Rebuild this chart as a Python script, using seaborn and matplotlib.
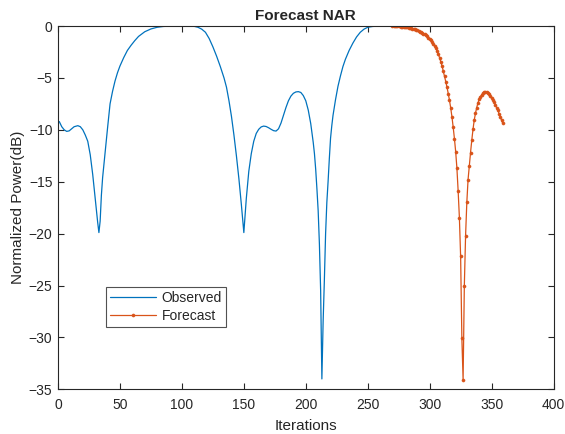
import numpy as np
import pandas as pd
import matplotlib
matplotlib.use("Agg")
import matplotlib.pyplot as plt
import seaborn as sns

# Observed normalized power (dB) over iterations
obs_x = [1, 3, 5, 7, 9, 11, 13, 16, 18, 20, 22, 24, 26, 28, 30, 32, 33, 34, 35, 36,
         38, 40, 42, 44, 46, 48, 50, 53, 56, 59, 62, 65, 70, 75, 80, 85, 90, 95, 100,
         105, 110, 113, 116, 119, 122, 125, 128, 131, 134, 136, 138, 140, 142, 144,
         146, 148, 150, 152, 154, 156, 158, 160, 162, 164, 166, 168, 170, 172, 174,
         176, 178, 180, 182, 184, 186, 188, 190, 192, 194, 196, 198, 200, 202, 204,
         206, 207, 208, 209, 210, 211, 212, 213, 214, 215, 216, 217, 218, 219, 220,
         221, 222, 224, 226, 228, 230, 232, 235, 238, 241, 244, 247, 250, 254, 258,
         262, 266, 270]
obs_y = [-9.2, -9.7, -10.0, -10.15, -10.1, -9.9, -9.7, -9.6, -9.7, -10.0, -10.5,
         -11.1, -12.4, -14.3, -16.6, -18.9, -19.9, -18.8, -16.3, -14.6,
         -12.2, -9.8, -7.5, -6.3, -5.3, -4.5, -3.85, -3.05, -2.35, -1.85, -1.4,
         -1.0, -0.55, -0.28, -0.12, -0.04, -0.01, 0.0, 0.0,
         0.0, -0.03, -0.12, -0.3, -0.6, -1.2, -2.0, -2.9, -3.9, -5.0, -5.9,
         -7.2, -8.7, -10.5, -12.5, -14.7, -17.2, -19.9, -16.6, -14.0, -12.3,
         -11.1, -10.35, -9.95, -9.72, -9.64, -9.68, -9.8, -9.95, -10.08,
         -10.12, -9.9, -9.35, -8.6, -7.85, -7.2, -6.75, -6.48, -6.35, -6.32,
         -6.4, -6.7, -7.2, -8.1, -9.4, -11.2, -12.3, -13.8, -15.7, -17.8,
         -21.0, -25.5, -34.0, -28.5, -24.5, -20.0, -17.0, -15.0, -12.8,
         -10.8, -9.6, -8.6, -7.1, -5.8, -4.8, -3.9, -3.2, -2.35, -1.65, -1.05,
         -0.6, -0.3, -0.12, -0.04, -0.01, 0.0, 0.0, 0.0]

# NAR forecast, one value per iteration from 270 to 359
fc_x = list(range(270, 360))
fc_y = [0.0, 0.0, -0.01, -0.01, -0.02, -0.03, -0.04, -0.05, -0.06, -0.08,
        -0.10, -0.12, -0.14, -0.16, -0.19, -0.22, -0.25, -0.29, -0.33, -0.37,
        -0.42, -0.47, -0.53, -0.59, -0.66, -0.73, -0.81, -0.90, -1.00, -1.11,
        -1.23, -1.37, -1.52, -1.69, -1.90, -2.12, -2.40, -2.70, -3.05, -3.45,
        -3.85, -4.35, -4.85, -5.35, -5.90, -6.50, -7.15, -7.90, -8.75, -9.75,
        -10.85, -12.10, -13.70, -15.90, -18.45, -22.20, -30.10, -34.07, -25.00,
        -20.20, -17.00, -14.80, -13.50, -12.20, -11.00, -9.95, -9.05, -8.40,
        -7.85, -7.40, -7.05, -6.80, -6.60, -6.47, -6.40, -6.37, -6.40, -6.47,
        -6.58, -6.72, -6.90, -7.10, -7.33, -7.58, -7.85, -8.13, -8.43, -8.74,
        -9.06, -9.38]

x_ticks = [0, 50, 100, 150, 200, 250, 300, 350, 400]
y_ticks = [-35, -30, -25, -20, -15, -10, -5, 0]

BLUE = "#0072BD"
ORANGE = "#D95319"

sns.set_style("ticks")
plt.rcParams["font.family"] = ["Liberation Sans", "DejaVu Sans"]

obs_df = pd.DataFrame({"Iterations": obs_x, "Power": obs_y})
fc_df = pd.DataFrame({"Iterations": fc_x, "Power": fc_y})

fig = plt.figure(figsize=(5.65, 4.34), dpi=100)
ax = fig.add_axes([0.1027, 0.103, 0.8770, 0.837])

sns.lineplot(data=obs_df, x="Iterations", y="Power", ax=ax, color=BLUE,
             linewidth=0.9, sort=False, estimator=None, label="Observed")
sns.lineplot(data=fc_df, x="Iterations", y="Power", ax=ax, color=ORANGE,
             linewidth=0.9, marker="o", markersize=2.2, markeredgewidth=0.4,
             markeredgecolor=ORANGE, markerfacecolor=ORANGE,
             sort=False, estimator=None, label="Forecast")

ax.set_xlim(0, 400)
ax.set_ylim(-35, 0)
ax.set_xticks(x_ticks)
ax.set_yticks(y_ticks)
ax.tick_params(direction="in", length=4, width=0.8, top=True, right=True,
               labelsize=10, colors="#262626")
ax.tick_params(axis="x", pad=6)
ax.tick_params(axis="y", pad=4)
for s in ax.spines.values():
    s.set_visible(True)
    s.set_linewidth(0.8)
    s.set_color("#262626")

ax.set_title("Forecast NAR", fontsize=11, fontweight="bold", pad=4)
ax.set_xlabel("Iterations", fontsize=11, color="#262626", labelpad=5)
ax.set_ylabel("Normalized Power(dB)", fontsize=11, color="#262626", labelpad=3)

leg = ax.legend(loc="lower left", bbox_to_anchor=(0.097, 0.172), fontsize=10,
                frameon=True, fancybox=False, handlelength=3.3, borderpad=0.3,
                labelspacing=0.25, handletextpad=0.4, borderaxespad=0)
leg.get_frame().set_edgecolor("#262626")
leg.get_frame().set_linewidth(0.8)

fig.savefig("out.png", dpi=100)
